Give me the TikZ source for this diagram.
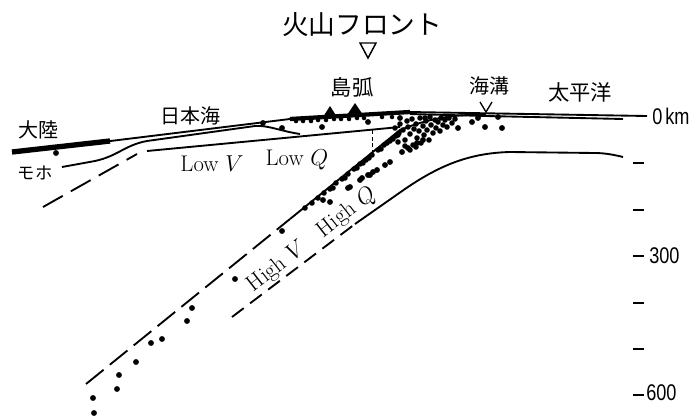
\documentclass[tikz,border=0pt]{standalone}
\usepackage{fontspec}
\newfontfamily\jfont{Noto Sans CJK JP}
\newfontfamily\numfont{Liberation Sans}
\newcommand{\narrow}[1]{\scalebox{0.8}[1]{#1}}

\begin{document}
\begin{tikzpicture}[x=0.75pt,y=-0.75pt,
    jlabel/.style={font=\jfont\fontsize{15}{18}\selectfont, inner sep=0pt},
    vqlabel/.style={font=\fontsize{17}{20}\selectfont, inner sep=0pt},
    depth/.style={font=\numfont\fontsize{17}{20}\selectfont, inner sep=0pt, anchor=west},
    boundary/.style={line width=1.4pt},
    quake/.style={fill=black}]
  \useasboundingbox (0,0) rectangle (700,418);

  % surface: continent, Japan Sea, island arc, trench, ocean
  \draw[line width=4pt] (12,152) -- (110,141);
  \draw[boundary] (108,141.3) -- (290,119);
  \draw[line width=3.2pt] (290,119) -- (410,112);
  \fill (323,117) -- (330,106) -- (337,117) -- cycle;
  \fill (347,115) -- (355,103) -- (363,115) -- cycle;
  \draw[boundary] (410,112) -- (647,116);
  \draw[boundary] (410,114) -- (486,116) -- (623,119);
  \draw[line width=1pt] (480,102) -- (486,112) -- (492,102);

  % Moho and base of the lithosphere
  \draw[boundary] (62,167) -- (95,161) .. controls (118,156) and (125,145) .. (147,141)
    -- (255,126) .. controls (268,125) and (280,131) .. (300,134);
  \draw[boundary] (147,151) -- (400,127);
  \draw[boundary, dash pattern=on 17pt off 7pt] (43,207) -- (137,154);

  % descending slab
  \draw[boundary, dash pattern=on 17pt off 6pt] (86,384) -- (290,219);
  \draw[boundary] (290,219) -- (400,130) .. controls (430,118) and (455,114) .. (486,115);
  \draw[boundary, dash pattern=on 11pt off 6pt] (232,317) -- (355,224);
  \draw[boundary] (355,224) -- (405,189) .. controls (440,165) and (470,153) .. (510,152)
    -- (595,153) .. controls (605,153) and (615,155) .. (623,157);
  \draw[thin, densely dashed] (372,130) -- (372,154);

  % volcanic front
  \node[font=\jfont\fontsize{20}{24}\selectfont, inner sep=0pt] (front) at (362,25) {火山フロント};
  \draw[line width=1.1pt] (360,43) -- (376,43) -- (368,58) -- cycle;

  % earthquakes
  \foreach \x/\y in {56/153, 263/123, 282/128, 322/127, 368/122, 400/118,
      458/128, 485/127, 502/128, 472/122, 478/118, 498/117,
      323/200, 330/202, 348/188, 360/180, 282/231, 235/279, 192/308, 187/321,
      162/339, 151/343, 136/362, 119/375, 117/389, 93/398, 94/413,
      350/187, 362/178, 370/175, 377/170, 385/165, 390/162, 402/152, 408/148,
      417/143, 423/140, 368/175, 373/172}
    \fill[quake] (\x,\y) circle (2.2pt);
  \foreach \x/\y in {296/121, 303/121, 311/121, 318/120, 326/120, 334/119, 341/119,
      349/119, 357/118, 364/118, 382/117, 392/117}
    \fill[quake] (\x,\y) circle (1.7pt);
  \foreach \x/\y in {305/208, 312/203, 318/198, 324/193, 330/189, 336/183, 342/179,
      348/174, 354/169, 360/164, 366/160, 372/155, 378/150, 384/145, 390/141, 396/136,
      333/188, 345/178, 357/168, 363/163, 369/158, 381/149, 387/143, 393/139, 399/133,
      395/128, 398/135, 400/124, 403/130, 405/140, 407/121, 408/127, 410/134, 412/119,
      413/145, 414/129, 416/124, 417/138, 419/131, 420/118, 421/143, 423/126, 424/135,
      426/121, 427/130, 429/140, 430/117, 431/125, 433/133, 435/120, 436/128, 438/122,
      440/131, 441/118, 443/125, 445/120, 447/127, 449/118, 452/123, 455/119, 405/146,
      398/142, 410/150, 416/147, 425/118}
    \fill[quake] (\x,\y) circle (2.1pt);

  % labels
  \node[jlabel, font=\jfont\fontsize{16}{19}\selectfont] (arc) at (352,87) {島弧};
  \node[jlabel] (trench) at (489,86) {海溝};
  \node[jlabel, font=\jfont\fontsize{16}{19}\selectfont] (pacific) at (580,92) {太平洋};
  \node[jlabel] (japansea) at (190,116) {日本海};
  \node[jlabel] (continent) at (38,130) {大陸};
  \node[jlabel, font=\jfont\fontsize{13}{16}\selectfont] (moho) at (35,173) {モホ};
  \node[vqlabel, anchor=base] (lowv) at (212,171) {Low $V$};
  \node[vqlabel, anchor=base] (lowq) at (297,165) {Low $Q$};
  \node[vqlabel, rotate=38] (highvq) at (312,240) {High $V$\hspace{0.9em}High $Q$};

  % depth scale
  \foreach \y in {163,210,256,303,349,395}
    \draw[line width=1.3pt] (633,\y) -- (644,\y);
  \node[depth] (d0) at (652,116) {\narrow{0\,km}};
  \node[depth] (d300) at (649,256) {\narrow{300}};
  \node[depth] (d600) at (646,393) {\narrow{600}};
\end{tikzpicture}
\end{document}
